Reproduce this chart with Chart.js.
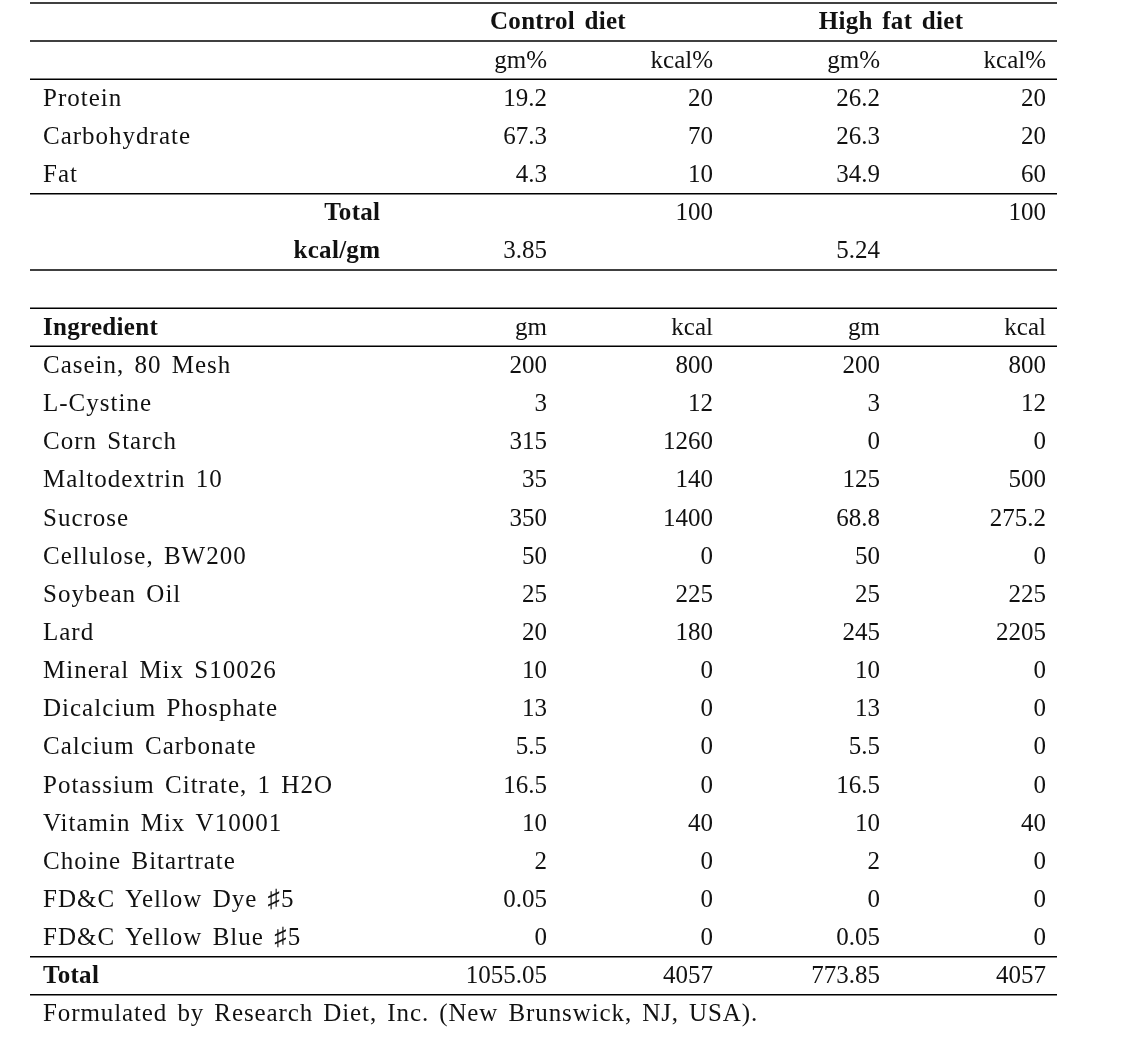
<!DOCTYPE html>
<html>
<head>
<meta charset="utf-8">
<script src="https://cdn.jsdelivr.net/npm/chart.js@4.4.0/dist/chart.umd.min.js"></script>
<style>
    html, body { margin: 0; padding: 0; background: #fff; }
    #wrap { width: 1147px; height: 1052px; }
</style>
</head>
<body>
<div id="wrap"><canvas id="diet-table"></canvas></div>
<script>
'use strict';

const diet_names = ['Control diet', 'High fat diet'];
const macro_units = ['gm%', 'kcal%', 'gm%', 'kcal%'];
const macro_names = ['Protein', 'Carbohydrate', 'Fat'];
const control_gm_pct = [19.2, 67.3, 4.3];
const control_kcal_pct = [20, 70, 10];
const hfd_gm_pct = [26.2, 26.3, 34.9];
const hfd_kcal_pct = [20, 20, 60];
const kcal_pct_total = [100, 100];
const kcal_per_gm = [3.85, 5.24];

const ingredient_units = ['gm', 'kcal', 'gm', 'kcal'];
const ingredients = [
    'Casein, 80 Mesh', 'L-Cystine', 'Corn Starch', 'Maltodextrin 10', 'Sucrose',
    'Cellulose, BW200', 'Soybean Oil', 'Lard', 'Mineral Mix S10026',
    'Dicalcium Phosphate', 'Calcium Carbonate', 'Potassium Citrate, 1 H2O',
    'Vitamin Mix V10001', 'Choine Bitartrate', 'FD&C Yellow Dye \u266F5',
    'FD&C Yellow Blue \u266F5'
];
const control_gm = [200, 3, 315, 35, 350, 50, 25, 20, 10, 13, 5.5, 16.5, 10, 2, 0.05, 0];
const control_kcal = [800, 12, 1260, 140, 1400, 0, 225, 180, 0, 0, 0, 0, 40, 0, 0, 0];
const hfd_gm = [200, 3, 0, 125, 68.8, 50, 25, 245, 10, 13, 5.5, 16.5, 10, 2, 0, 0.05];
const hfd_kcal = [800, 12, 0, 500, 275.2, 0, 225, 2205, 0, 0, 0, 0, 40, 0, 0, 0];
const ingredient_totals = [1055.05, 4057, 773.85, 4057];
const footnote = 'Formulated by Research Diet, Inc. (New Brunswick, NJ, USA).';

// ---- layout (x in page units, y in row units) ----
const cols = {
    left: 30, right: 1057,
    label: 43, total_label: 380,
    values: [547, 713, 880, 1046],
    headers: [558, 891]
};
const rows = {
    diet: 0, unit: 1, macro_start: 2, total: 5, kcal_gm: 6,
    ingredient: 8, ingredient_start: 9, ingredient_total: 25, footnote: 26
};
const rules = [-0.5, 0.5, 1.5, 4.5, 6.5, 7.5, 8.5, 24.5, 25.5];

const FONT = '"Liberation Serif", "Times New Roman", serif';
const TEXT_COLOUR = '#111';

function text_set(points, align, weight, spacing) {
    return {
        type: 'scatter',
        data: points.map(p => ({ x: p.x, y: p.y })),
        cell_text: points.map(p => p.t),
        cell_align: align,
        cell_weight: weight || 'normal',
        cell_spacing: spacing || 0,
        pointRadius: 0,
        pointHoverRadius: 0,
        showLine: false
    };
}

function build_datasets() {
    const sets = [];

    // horizontal rules
    rules.forEach(r => {
        sets.push({
            type: 'line',
            data: [{ x: cols.left, y: r }, { x: cols.right, y: r }],
            borderColor: '#000',
            borderWidth: 1.5,
            pointRadius: 0,
            pointHoverRadius: 0
        });
    });

    // diet headers
    sets.push(text_set(diet_names.map((t, i) => ({ x: cols.headers[i], y: rows.diet, t })), 'center', 'bold', 0.3));

    // unit rows
    sets.push(text_set(macro_units.map((t, i) => ({ x: cols.values[i], y: rows.unit, t })), 'right'));
    sets.push(text_set(ingredient_units.map((t, i) => ({ x: cols.values[i], y: rows.ingredient, t })), 'right'));

    // row labels
    sets.push(text_set(macro_names.map((t, i) => ({ x: cols.label, y: rows.macro_start + i, t })), 'left', 'normal', 1));
    sets.push(text_set(ingredients.map((t, i) => ({ x: cols.label, y: rows.ingredient_start + i, t })), 'left', 'normal', 1));
    sets.push(text_set([
        { x: cols.total_label, y: rows.total, t: 'Total' },
        { x: cols.total_label, y: rows.kcal_gm, t: 'kcal/gm' }
    ], 'right', 'bold', 0.3));
    sets.push(text_set([
        { x: cols.label, y: rows.ingredient, t: 'Ingredient' },
        { x: cols.label, y: rows.ingredient_total, t: 'Total' }
    ], 'left', 'bold', 0.3));

    // macro values
    [control_gm_pct, control_kcal_pct, hfd_gm_pct, hfd_kcal_pct].forEach((series, c) => {
        sets.push(text_set(series.map((v, i) => ({ x: cols.values[c], y: rows.macro_start + i, t: String(v) })), 'right'));
    });
    sets.push(text_set([
        { x: cols.values[1], y: rows.total, t: String(kcal_pct_total[0]) },
        { x: cols.values[3], y: rows.total, t: String(kcal_pct_total[1]) },
        { x: cols.values[0], y: rows.kcal_gm, t: String(kcal_per_gm[0]) },
        { x: cols.values[2], y: rows.kcal_gm, t: String(kcal_per_gm[1]) }
    ], 'right'));

    // ingredient values
    [control_gm, control_kcal, hfd_gm, hfd_kcal].forEach((series, c) => {
        sets.push(text_set(series.map((v, i) => ({ x: cols.values[c], y: rows.ingredient_start + i, t: String(v) })), 'right'));
    });
    sets.push(text_set(ingredient_totals.map((v, c) => ({ x: cols.values[c], y: rows.ingredient_total, t: String(v) })), 'right'));

    // footnote
    sets.push(text_set([{ x: cols.label, y: rows.footnote, t: footnote }], 'left', 'normal', 0.9));

    return sets;
}

const cell_text_plugin = {
    id: 'cell_text',
    afterDatasetsDraw(chart) {
        const ctx = chart.ctx;
        chart.data.datasets.forEach((ds, di) => {
            if (!ds.cell_text) return;
            const meta = chart.getDatasetMeta(di);
            ctx.save();
            ctx.fillStyle = TEXT_COLOUR;
            ctx.font = `${ds.cell_weight} 25px ${FONT}`;
            ctx.textAlign = ds.cell_align;
            ctx.textBaseline = 'middle';
            if ('letterSpacing' in ctx) ctx.letterSpacing = `${ds.cell_spacing}px`;
            if ('wordSpacing' in ctx) ctx.wordSpacing = ds.cell_spacing ? '3px' : '0px';
            meta.data.forEach((el, i) => {
                // right aligned text carries trailing letter spacing, pull it back
                const shift = ds.cell_align === 'right' ? ds.cell_spacing : 0;
                ctx.fillText(ds.cell_text[i], el.x + shift, el.y + 1);
            });
            ctx.restore();
        });
    }
};

const pitch = 38.15;
const config = {
    data: { datasets: build_datasets() },
    plugins: [cell_text_plugin],
    options: {
        responsive: true,
        maintainAspectRatio: false,
        animation: false,
        events: [],
        layout: { padding: 0 },
        plugins: {
            legend: { display: false },
            tooltip: { enabled: false },
            title: { display: false }
        },
        scales: {
            x: { type: 'linear', min: 0, max: 1147, display: false },
            y: {
                type: 'linear',
                reverse: true,
                min: -22 / pitch,
                max: -22 / pitch + 1052 / pitch,
                display: false
            }
        }
    }
};

new Chart(document.getElementById('diet-table'), config);
</script>
</body>
</html>
